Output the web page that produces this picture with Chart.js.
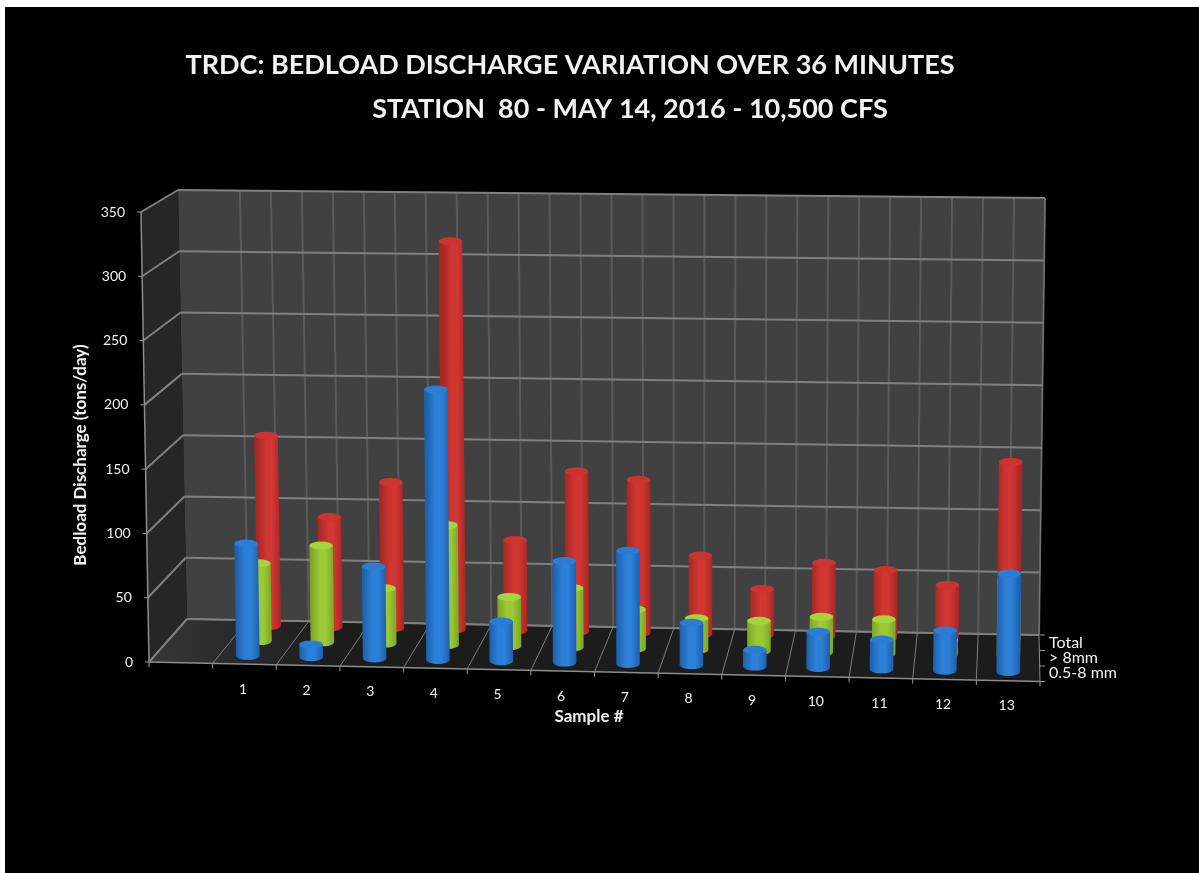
<!DOCTYPE html>
<html>
<head>
<meta charset="utf-8">
<title>TRDC bedload discharge</title>
<script src="https://cdn.jsdelivr.net/npm/chart.js@4"></script>
<style>
  html, body { margin: 0; padding: 0; background: #fff; overflow: hidden; }
  #wrap { width: 1199px; height: 873px; }
  canvas { display: block; filter: blur(0.5px); }
</style>
</head>
<body>
<div id="wrap"><canvas id="chart" width="1199" height="873"></canvas></div>
<script>
// Values (tons/day)
const samples = ['1', '2', '3', '4', '5', '6', '7', '8', '9', '10', '11', '12', '13'];
const seriesNames = ['0.5-8 mm', '> 8mm', 'Total'];
const fineValues = [88, 10, 72, 211, 31, 79, 88, 33, 13, 28, 23, 31, 76];
const coarseValues = [62, 77, 44, 95, 39, 47, 31, 25, 24, 28, 27, 12, 60];
const totalValues = [154, 89, 118, 313, 73, 129, 123, 63, 37, 59, 54, 43, 142];
const yTicks = [0, 50, 100, 150, 200, 250, 300, 350];
const titleLines = ['TRDC: BEDLOAD DISCHARGE VARIATION OVER 36 MINUTES', 'STATION  80 - MAY 14, 2016 - 10,500 CFS'];
const xTitle = 'Sample #';
const yTitle = 'Bedload Discharge (tons/day)';

const FONT = 'Lato, Carlito, sans-serif';
const TEXT = '#f2f2f2';

// Corners of the box, [x, y]: front/back, left/right, floor/ceiling
const box = {
  fl0: [149, 662], fr0: [1040, 681.5], bl0: [187, 619], br0: [1039, 635],
  fl1: [141, 212], fr1: [1046, 224], bl1: [178, 190], br1: [1045, 198]
};

// How far back each row stands (x and y do not share one depth in the original)
const rows = [
  { dx: 0.10, dy: 0.19, side: '#1c60ae', mid: '#2d80d8', cap: '#2c7cd3' },
  { dx: 0.46, dy: 0.53, side: '#7ca526', mid: '#9cc936', cap: '#a6d43c' },
  { dx: 0.73, dy: 0.88, side: '#a82724', mid: '#d03632', cap: '#cc3430' }
];

function lerp(a, b, t) { return a + (b - a) * t; }

// Project u (along the axis), depth and height (all 0..1) into the box
function project(u, dx, dy, v) {
  const x0 = lerp(lerp(box.fl0[0], box.fr0[0], u), lerp(box.bl0[0], box.br0[0], u), dx);
  const y0 = lerp(lerp(box.fl0[1], box.fr0[1], u), lerp(box.bl0[1], box.br0[1], u), dy);
  const x1 = lerp(lerp(box.fl1[0], box.fr1[0], u), lerp(box.bl1[0], box.br1[0], u), dx);
  const y1 = lerp(lerp(box.fl1[1], box.fr1[1], u), lerp(box.bl1[1], box.br1[1], u), dy);
  return { x: lerp(x0, x1, v), y: lerp(y0, y1, v) };
}

function poly(ctx, pts, fill) {
  ctx.beginPath();
  pts.forEach((p, i) => (i ? ctx.lineTo(p[0], p[1]) : ctx.moveTo(p[0], p[1])));
  ctx.closePath();
  ctx.fillStyle = fill;
  ctx.fill();
}

function line(ctx, a, b, color, width) {
  ctx.beginPath();
  ctx.moveTo(a[0], a[1]);
  ctx.lineTo(b[0], b[1]);
  ctx.strokeStyle = color;
  ctx.lineWidth = width;
  ctx.stroke();
}

function label(ctx, text, x, y, font, align) {
  ctx.font = font;
  ctx.fillStyle = TEXT;
  ctx.textAlign = align;
  ctx.textBaseline = 'middle';
  ctx.fillText(text, x, y);
}

function drawCylinder(ctx, el, row, area) {
  const u = (el.x - area.left) / area.width;
  const v = (el.base - el.y) / area.height;
  const b = project(u, row.dx, row.dy, 0);
  const t = project(u, row.dx, row.dy, v);
  const rx = el.width / 2;
  const ry = 4;

  const grad = ctx.createLinearGradient(b.x - rx, 0, b.x + rx, 0);
  grad.addColorStop(0, row.side);
  grad.addColorStop(0.4, row.mid);
  grad.addColorStop(0.65, row.mid);
  grad.addColorStop(1, row.side);

  ctx.beginPath();
  ctx.ellipse(b.x, b.y, rx, ry, 0, 0, Math.PI);
  ctx.lineTo(t.x - rx, t.y);
  ctx.lineTo(t.x + rx, t.y);
  ctx.closePath();
  ctx.fillStyle = grad;
  ctx.fill();

  ctx.beginPath();
  ctx.ellipse(t.x, t.y, rx, ry, 0, 0, Math.PI * 2);
  ctx.fillStyle = row.cap;
  ctx.fill();
}

// Black page, walls, floor and gridlines under the bars
const box3d = {
  id: 'box3d',
  beforeDatasetsDraw(chart) {
    const { ctx, scales, chartArea: area } = chart;
    ctx.save();
    ctx.fillStyle = '#000';
    ctx.fillRect(5, 7, chart.width - 5, chart.height - 7);

    poly(ctx, [box.fl0, box.fl1, box.bl1, box.bl0], '#262626');
    poly(ctx, [box.bl0, box.bl1, box.br1, box.br0], '#414141');
    const floor = ctx.createLinearGradient(150, 0, 330, 0);
    floor.addColorStop(0, '#363636');
    floor.addColorStop(1, '#1c1c1c');
    poly(ctx, [box.fl0, box.bl0, box.br0, box.fr0], floor);

    // Vertical lines on the back wall, every half slot after the first slot
    const slot = 1 / (scales.x.ticks.length);
    for (let k = 2; k <= 28; k++) {
      const u = k * slot / 2;
      const p = project(u, 1, 1, 0), q = project(u, 1, 1, 1);
      line(ctx, [p.x, p.y], [q.x, q.y], '#5a5a5a', 2);
    }

    // Lines across the floor, from each front tick to the back wall
    scales.x.ticks.forEach((tick, i) => {
      const u = i * slot;
      const f = project(u, 0, 0, 0), b = project(u, 1, 1, 0);
      line(ctx, [f.x, f.y], [b.x, b.y], '#7c7c7c', 1);
      line(ctx, [f.x, f.y], [f.x, f.y + 5], '#9a9a9a', 1);
    });
    const end = project(1, 0, 0, 0);
    line(ctx, [end.x, end.y], [end.x, end.y + 5], '#9a9a9a', 1);
    line(ctx, box.fl0, box.fr0, '#8c8c8c', 1.5);
    line(ctx, box.bl0, box.br0, '#7c7c7c', 1.5);

    // Value gridlines on the left and back walls
    scales.y.ticks.forEach((tick) => {
      const v = (area.bottom - scales.y.getPixelForValue(tick.value)) / area.height;
      const f = project(0, 0, 0, v), m = project(0, 1, 1, v), r = project(1, 1, 1, v);
      line(ctx, [f.x, f.y], [m.x, m.y], '#808080', 2);
      line(ctx, [m.x, m.y], [r.x, r.y], '#808080', 2);
      line(ctx, [f.x - 4, f.y], [f.x, f.y], '#9a9a9a', 1);
    });
    line(ctx, box.fl0, box.fl1, '#8c8c8c', 1.5);
    line(ctx, box.br0, box.br1, '#777', 1);
    line(ctx, box.fr0, box.br0, '#8c8c8c', 1);

    // Depth axis ticks on the right
    for (let d = 0; d <= 3; d++) {
      const p = project(1, 0, d / 3, 0);
      line(ctx, [1040, p.y], [1045, p.y], '#9a9a9a', 1);
    }
    ctx.restore();
  },
  // The library's bar becomes a cylinder standing in its row
  beforeDatasetDraw(chart, args) {
    const { ctx, chartArea: area } = chart;
    const values = chart.data.datasets[args.index].data;
    ctx.save();
    args.meta.data.forEach((el, i) => {
      if (values[i] !== null) drawCylinder(ctx, el, rows[args.index], area);
    });
    ctx.restore();
    return false;
  },
  afterDraw(chart) {
    const { ctx, scales, chartArea: area } = chart;
    ctx.save();
    label(ctx, titleLines[0], 570, 65, 'bold 27px ' + FONT, 'center');
    label(ctx, titleLines[1], 630, 109, 'bold 27px ' + FONT, 'center');

    scales.y.ticks.forEach((tick) => {
      const y = scales.y.getPixelForValue(tick.value);
      const v = (area.bottom - y) / area.height;
      label(ctx, tick.label, project(0, 0, 0, v).x - 16, y, '14px ' + FONT, 'right');
    });

    scales.x.ticks.forEach((tick, i) => {
      const text = scales.x.getLabelForValue(tick.value);
      const x = scales.x.getPixelForTick(i);
      label(ctx, text, x - 1.5, project((x - area.left) / area.width, 0, 0, 0).y + 25, '14px ' + FONT, 'center');
    });

    label(ctx, xTitle, 589, 717, 'bold 17px ' + FONT, 'center');
    ctx.translate(81, 455);
    ctx.rotate(-Math.PI / 2);
    label(ctx, yTitle, 0, 0, 'bold 17px ' + FONT, 'center');
    ctx.setTransform(1, 0, 0, 1, 0, 0);

    // Series names next to the depth axis, back row first
    [...seriesNames].reverse().forEach((name, i) => {
      label(ctx, name, 1049, 643 + i * 15, '16px ' + FONT, 'left');
    });
    ctx.restore();
  }
};

const slots = [''].concat(samples);
const makeSet = (name, values) => ({
  label: name,
  data: [null].concat(values),
  barPercentage: 0.37,
  categoryPercentage: 1,
  grouped: false
});

new Chart(document.getElementById('chart'), {
  type: 'bar',
  data: {
    labels: slots,
    datasets: [
      makeSet(seriesNames[0], fineValues),
      makeSet(seriesNames[1], coarseValues),
      makeSet(seriesNames[2], totalValues)
    ]
  },
  options: {
    responsive: false,
    animation: false,
    layout: { padding: { left: 149, right: 159, top: 212, bottom: 211 } },
    plugins: { legend: { display: false }, tooltip: { enabled: false } },
    scales: {
      x: {
        afterFit: (axis) => { axis.height = 0; },
        grid: { display: false },
        border: { display: false },
        ticks: { display: false, autoSkip: false }
      },
      y: {
        min: 0,
        max: 350,
        afterFit: (axis) => { axis.width = 0; },
        afterBuildTicks: (axis) => { axis.ticks = yTicks.map((value) => ({ value, label: String(value) })); },
        grid: { display: false },
        border: { display: false },
        ticks: { display: false }
      }
    }
  },
  plugins: [box3d]
});
</script>
</body>
</html>
